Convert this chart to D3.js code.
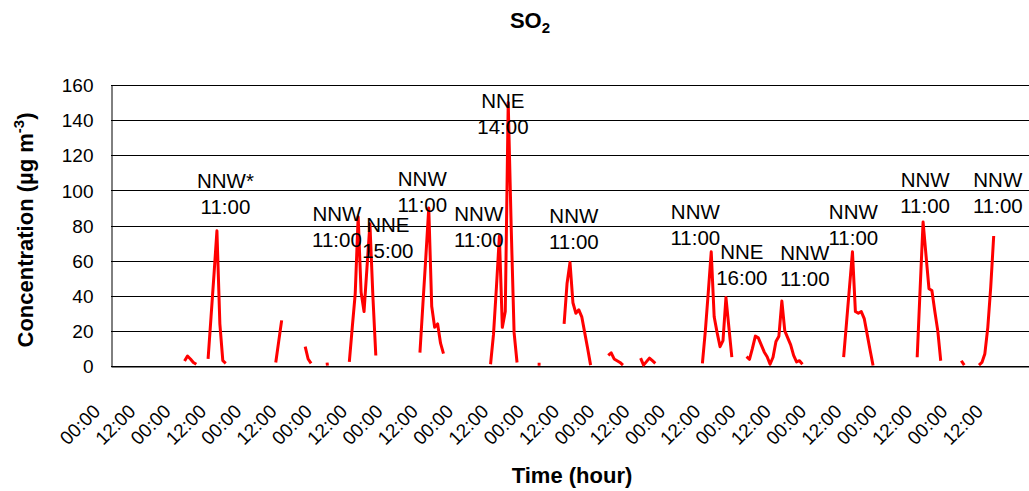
<!DOCTYPE html>
<html>
<head>
<meta charset="utf-8">
<script src="https://cdn.jsdelivr.net/npm/d3@7"></script>
<style>
body { margin: 0; background: #fff; }
text { font-family: "Liberation Sans", Arial, sans-serif; }
</style>
</head>
<body>
<script>
// Hourly SO2 readings. Each run of valid hours is one segment:
// segStart = hour index of the first reading, segValues = readings (ug m-3)
const segStart = [24, 32, 55, 65, 72, 80, 104, 128, 144, 153, 168, 179, 200, 215, 248, 273, 288, 294];
const segValues = [
  [2.8, 5.7, 4, 2, 1],
  [4, 28, 52, 77, 24, 3, 1.5],
  [2, 14, 26],
  [11, 4, 1.5],
  [1, 1.2],
  [2.4, 22, 41, 85, 42, 31, 56, 81, 40, 6],
  [7.6, 35, 62, 90, 34, 22, 24, 13, 7],
  [1, 18, 45, 74, 22, 31, 150, 80, 19, 2],
  [1, 1],
  [24, 47, 59, 36, 30, 32, 28, 19, 10, 0.5],
  [6, 7.5, 4, 3, 2, 0.5],
  [4.5, 0.5, 2.5, 4.5, 3, 1.5],
  [1.5, 20, 42, 65, 28, 19, 11, 14.5, 39, 22, 5],
  [5.3, 3.8, 10, 17, 16, 12, 8, 5.3, 1, 5, 14, 17, 37, 20, 16, 12, 6, 2.3, 3, 1],
  [5, 25, 45, 65, 31, 30, 31, 27, 18, 9, 0.3],
  [5, 44, 82, 63, 44, 43, 31, 20, 3],
  [3, 0.5],
  [0.5, 2, 7, 22, 45, 74]
];

// wind direction / time notes placed over the daily peaks
const annotDir = ["NNW*", "NNW", "NNE", "NNW", "NNW", "NNE", "NNW", "NNW", "NNE", "NNW", "NNW", "NNW", "NNW"];
const annotTime = ["11:00", "11:00", "15:00", "11:00", "11:00", "14:00", "11:00", "11:00", "16:00", "11:00", "11:00", "11:00", "11:00"];
const annotHour = [37.9, 75.8, 93.1, 104.8, 124, 132.2, 156.3, 197.6, 213.4, 234.8, 251.3, 275.7, 300.4];
const annotValue = [101.2, 82.7, 76.1, 102.7, 82.7, 146.8, 81.6, 83.5, 60.9, 60.4, 83.5, 102.1, 102.1];

const nHours = 312;
const xTickHours = d3.range(0, 301, 12);
const yTicks = [0, 20, 40, 60, 80, 100, 120, 140, 160];

let W = 1029, H = 491;
let plot = { left: 111, right: 1029, top: 85, bottom: 366 };

let svg = d3.select("body").append("svg")
  .attr("width", W)
  .attr("height", H);

let x = d3.scaleLinear().domain([-1, nHours - 1]).range([plot.left, plot.right]);
let y = d3.scaleLinear().domain([0, 160]).range([plot.bottom, plot.top]);

// gridlines
svg.append("g")
  .selectAll("line")
  .data(yTicks)
  .enter()
  .append("line")
  .attr("x1", plot.left)
  .attr("x2", plot.right)
  .attr("y1", (d) => Math.round(y(d)) + 0.5)
  .attr("y2", (d) => Math.round(y(d)) + 0.5)
  .style("stroke", "#000")
  .style("stroke-width", 1);

// y axis
let yAxis = svg.append("g")
  .attr("transform", `translate(${plot.left + 0.5},0)`)
  .call(d3.axisLeft(y).tickValues(yTicks).tickSize(0).tickPadding(18));
yAxis.select(".domain").style("stroke", "#000");
yAxis.selectAll("text")
  .style("font-size", "19px")
  .style("fill", "#000")
  .attr("dy", "0.35em");

// x axis
let xAxis = svg.append("g")
  .attr("transform", `translate(0,${plot.bottom + 0.5})`)
  .call(d3.axisBottom(x)
    .tickValues(xTickHours)
    .tickSize(0)
    .tickFormat((d) => (d % 24 === 0 ? "00:00" : "12:00")));
xAxis.select(".domain").style("stroke", "#000");
xAxis.selectAll("text")
  .attr("x", 0)
  .attr("y", 0)
  .attr("dy", 0)
  .attr("transform", "translate(-13,46) rotate(-45)")
  .style("text-anchor", "end")
  .style("font-size", "19px")
  .style("fill", "#000");

// series
let line = d3.line()
  .x((d) => x(d.hour))
  .y((d) => y(d.value));

let segments = segStart.map((s, k) => segValues[k].map((v, j) => ({ hour: s + j, value: v })));

svg.append("g")
  .selectAll("path")
  .data(segments)
  .enter()
  .append("path")
  .attr("d", line)
  .style("fill", "none")
  .style("stroke", "#ff0000")
  .style("stroke-width", 3)
  .style("stroke-linejoin", "round");

// annotations
let notes = svg.append("g")
  .selectAll("text")
  .data(annotDir)
  .enter()
  .append("text")
  .attr("x", (d, i) => x(annotHour[i]))
  .attr("y", (d, i) => y(annotValue[i]))
  .style("text-anchor", "middle")
  .style("font-size", "20.5px")
  .style("fill", "#000");
notes.append("tspan").text((d) => d);
notes.append("tspan")
  .attr("x", (d, i) => x(annotHour[i]))
  .attr("dy", 26)
  .text((d, i) => annotTime[i]);

// title
let title = svg.append("text")
  .attr("x", 530)
  .attr("y", 28)
  .style("text-anchor", "middle")
  .style("font-size", "22px")
  .style("font-weight", "bold");
title.append("tspan").text("SO");
title.append("tspan").attr("dy", 5).style("font-size", "15px").text("2");

// axis titles
svg.append("text")
  .attr("x", 572)
  .attr("y", 483)
  .style("text-anchor", "middle")
  .style("font-size", "22px")
  .style("font-weight", "bold")
  .text("Time (hour)");

let yTitle = svg.append("text")
  .attr("transform", "translate(33,230) rotate(-90)")
  .style("text-anchor", "middle")
  .style("font-size", "22px")
  .style("font-weight", "bold");
yTitle.append("tspan").text("Concentration (\u00b5g m");
yTitle.append("tspan").attr("dy", -9).style("font-size", "15px").text("-3");
yTitle.append("tspan").attr("dy", 9).text(")");
</script>
</body>
</html>
